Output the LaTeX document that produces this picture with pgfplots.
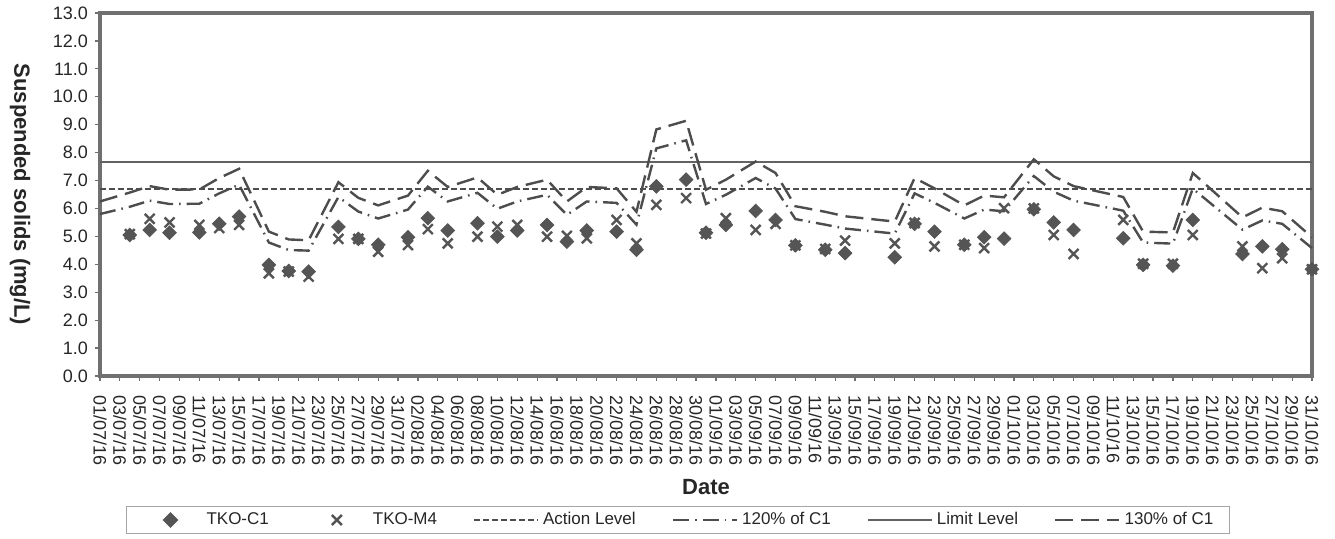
\documentclass[border=0pt]{standalone}
\usepackage{fontspec}
\setmainfont{Liberation Sans}
\usepackage{pgfplots}
\pgfplotsset{compat=1.18}
\usetikzlibrary{calc}

\definecolor{frame}{HTML}{707070}
\definecolor{mk}{HTML}{555555}
\definecolor{ln}{HTML}{4D4D4D}
\definecolor{lim}{HTML}{626262}

\pgfplotsset{
  markleg/.style={legend image code/.code={\path[draw=none] (0pt,0pt) -- (32pt,0pt);\draw[##1] plot coordinates {(16pt,0pt)};}},
  lineleg/.style={legend image code/.code={\draw[##1] (0pt,0pt) -- (32pt,0pt);}},
}

% sampling day (0 = 01/07/16), value in mg/L
\pgfplotstableread{
day c1   m4
3   5.05 5.08
5   5.23 5.63
7   5.13 5.50
10  5.14 5.41
12  5.45 5.30
14  5.71 5.41
17  3.98 3.68
19  3.76 3.74
21  3.74 3.56
24  5.34 4.91
26  4.91 4.91
28  4.70 4.45
31  4.97 4.69
33  5.65 5.26
35  5.21 4.75
38  5.47 4.99
40  4.99 5.35
42  5.21 5.41
45  5.41 4.99
47  4.81 5.02
49  5.21 4.93
52  5.17 5.59
54  4.52 4.75
56  6.79 6.13
59  7.03 6.37
61  5.13 5.10
63  5.41 5.65
66  5.91 5.23
68  5.59 5.45
70  4.68 4.68
73  4.52 4.55
75  4.40 4.85
80  4.25 4.75
82  5.45 5.48
84  5.17 4.64
87  4.70 4.70
89  4.97 4.58
91  4.92 6.01
94  5.97 6.00
96  5.50 5.05
98  5.23 4.37
103 4.93 5.59
105 3.98 4.02
108 3.95 4.02
110 5.59 5.05
115 4.37 4.64
117 4.64 3.86
119 4.54 4.22
122 3.82 3.82
}\ssdata

\pgfplotstableread{
day p120 p130
0   5.80 6.25
3   6.06 6.57
5   6.28 6.80
7   6.16 6.67
10  6.17 6.68
12  6.54 7.09
14  6.85 7.42
17  4.78 5.17
19  4.51 4.89
21  4.49 4.86
24  6.41 6.94
26  5.89 6.38
28  5.64 6.11
31  5.96 6.46
33  6.78 7.35
35  6.25 6.77
38  6.56 7.11
40  5.99 6.49
42  6.25 6.77
45  6.49 7.03
47  5.77 6.25
49  6.25 6.77
52  6.20 6.72
54  5.42 5.88
56  8.15 8.83
59  8.44 9.14
61  6.16 6.67
63  6.49 7.03
66  7.09 7.68
68  6.71 7.27
70  5.62 6.08
73  5.42 5.88
75  5.28 5.72
80  5.10 5.53
82  6.54 7.09
84  6.20 6.72
87  5.64 6.11
89  5.96 6.46
91  5.90 6.40
94  7.16 7.76
96  6.60 7.15
98  6.28 6.80
103 5.92 6.41
105 4.78 5.17
108 4.74 5.14
110 6.71 7.27
115 5.24 5.68
117 5.57 6.03
119 5.45 5.90
122 4.58 4.97
}\lvdata

\begin{document}
\begin{tikzpicture}
\begin{axis}[
  width=606pt, height=181.5pt,
  scale only axis,
  xmin=0, xmax=122, ymin=0, ymax=13,
  clip=false,
  axis line style={draw=frame, line width=2pt},
  tick pos=left, tick align=outside,
  major tick length=2.5pt,
  tick style={draw=frame, line width=0.6pt},
  xtick={0,2,...,122},
  xticklabels={01/07/16,03/07/16,05/07/16,07/07/16,09/07/16,11/07/16,13/07/16,15/07/16,17/07/16,19/07/16,21/07/16,23/07/16,25/07/16,27/07/16,29/07/16,31/07/16,
    02/08/16,04/08/16,06/08/16,08/08/16,10/08/16,12/08/16,14/08/16,16/08/16,18/08/16,20/08/16,22/08/16,24/08/16,26/08/16,28/08/16,30/08/16,
    01/09/16,03/09/16,05/09/16,07/09/16,09/09/16,11/09/16,13/09/16,15/09/16,17/09/16,19/09/16,21/09/16,23/09/16,25/09/16,27/09/16,29/09/16,
    01/10/16,03/10/16,05/10/16,07/10/16,09/10/16,11/10/16,13/10/16,15/10/16,17/10/16,19/10/16,21/10/16,23/10/16,25/10/16,27/10/16,29/10/16,31/10/16},
  xticklabel style={rotate=-90, anchor=west, font=\fontsize{9}{10}\selectfont, text=black!85, xshift=3.5pt},
  ytick={0,1,...,13},
  yticklabel style={font=\fontsize{9}{10}\selectfont, text=black!85, /pgf/number format/.cd, fixed, fixed zerofill, precision=1, assume math mode=true},
  every axis y label/.style={at={(axis description cs:-0.066,0.5)}, rotate=-90, anchor=center},
  ylabel={Suspended solids (mg/L)},
  ylabel style={font=\fontsize{11}{13}\selectfont\bfseries, text=black!85},
  every axis x label/.style={at={(axis description cs:0.5,0)}, yshift=-55.5pt, anchor=center},
  xlabel={Date},
  xlabel style={font=\fontsize{11}{13}\selectfont\bfseries, text=black!85},
  legend columns=6,
  legend cell align=left,
  legend style={at={(axis description cs:0.5,0)}, anchor=center, yshift=-72pt, xshift=-14pt,
    draw=black!35, line width=0.8pt, inner xsep=6pt, inner ysep=1pt,
    font=\fontsize{8.5}{10}\selectfont, text=black!85,
    /tikz/every even column/.append style={column sep=16pt}},
]
\addplot[only marks, mark=square*, mark size=2.4pt, color=mk, mark options={rotate=45}, markleg]
  table[x=day, y=c1] {\ssdata};
\addlegendentry{TKO-C1}
\addplot[only marks, mark=x, mark size=3.5pt, color=mk, mark options={line width=1.2pt}, markleg]
  table[x=day, y=m4] {\ssdata};
\addlegendentry{TKO-M4}
\addplot[no marks, color=ln, line width=1pt, dash pattern=on 3pt off 1.5pt, lineleg]
  coordinates {(0,6.70) (122,6.70)};
\addlegendentry{Action Level}
\addplot[no marks, color=ln, line width=1.2pt, dash pattern=on 8pt off 3pt on 0.8pt off 3pt, lineleg]
  table[x=day, y=p120] {\lvdata};
\addlegendentry{120\% of C1}
\addplot[no marks, color=lim, line width=1pt, lineleg]
  coordinates {(0,7.65) (122,7.65)};
\addlegendentry{Limit Level}
\addplot[no marks, color=ln, line width=1.2pt, dash pattern=on 9pt off 4pt, lineleg]
  table[x=day, y=p130] {\lvdata};
\addlegendentry{130\% of C1}
\end{axis}
\pgfresetboundingbox
\path ($(current axis.south west)+(-50pt,-81.5pt)$) rectangle ($(current axis.north east)+(11.5pt,6.5pt)$);
\end{tikzpicture}
\end{document}
